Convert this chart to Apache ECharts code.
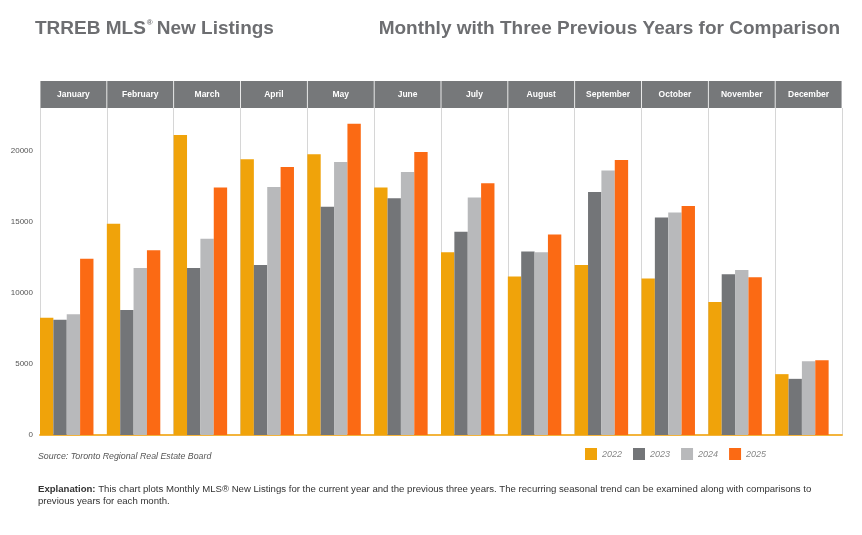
<!DOCTYPE html>
<html>
<head>
<meta charset="utf-8">
<script src="https://cdn.jsdelivr.net/npm/echarts@6/dist/echarts.min.js"></script>
<style>
html,body{margin:0;padding:0;background:#fff;}
#chart{width:862px;height:535px;}
</style>
</head>
<body>
<div id="chart"></div>
<script>
const months = ['January','February','March','April','May','June','July','August','September','October','November','December'];
const years = ['2022','2023','2024','2025'];
const v2022 = [8250,14850,21100,19400,19750,17400,12850,11150,11950,11000,9350,4280];
const v2023 = [8100,8800,11750,11950,16050,16650,14300,12900,17100,15300,11300,3950];
const v2024 = [8500,11750,13800,17450,19200,18500,16700,12850,18600,15650,11600,5180];
const v2025 = [12400,13000,17400,18850,21900,19900,17700,14100,19350,16100,11100,5250];
const spacer = [null,null,null,null,null,null,null,null,null,null,null,null];
const colors = ['#f0a30a','#737578','#b8b9bb','#fb6a14'];

const chart = echarts.init(document.getElementById('chart'));
const seriesData = [v2022, v2023, v2024, v2025];
const series = seriesData.map((d, i) => ({
  name: years[i], type: 'bar', data: d, barGap: '0%', barCategoryGap: '0%',
  itemStyle: {color: colors[i]}, xAxisIndex: 0, yAxisIndex: 0, silent: true
}));
series.push({name: 'spacer', type: 'bar', data: spacer, barGap: '0%', barCategoryGap: '0%', silent: true});

chart.setOption({
  animation: false,
  backgroundColor: '#fff',
  textStyle: {fontFamily: 'Liberation Sans, Arial, sans-serif'},
  title: [
    {text: 'TRREB MLS{sup|®}New Listings', left: 30, top: 14,
     textStyle: {fontSize: 19, fontWeight: 'bold', color: '#6d6e71', fontFamily: 'Liberation Sans',
       rich: {sup: {fontSize: 8, fontWeight: 'bold', color: '#6d6e71', verticalAlign: 'top', padding: [0,4,8,1]}}}},
    {text: 'Monthly with Three Previous Years for Comparison', right: 17, top: 14,
     textStyle: {fontSize: 19, fontWeight: 'bold', color: '#6d6e71', fontFamily: 'Liberation Sans'}},
    {text: 'Source: Toronto Regional Real Estate Board', left: 33, top: 447,
     textStyle: {fontSize: 8.8, fontStyle: 'italic', fontWeight: 'normal', color: '#555'}},
    {text: '{b|Explanation:} This chart plots Monthly MLS® New Listings for the current year and the previous three years. The recurring seasonal trend can be examined along with comparisons to\nprevious years for each month.',
     left: 33, top: 478,
     textStyle: {fontSize: 9.6, fontWeight: 'normal', color: '#333', lineHeight: 12,
       rich: {b: {fontSize: 9.6, fontWeight: 'bold', color: '#333', lineHeight: 12}}}}
  ],
  legend: {
    data: years, left: 580, top: 443, itemWidth: 12, itemHeight: 12, itemGap: 11,
    icon: 'rect', selectedMode: false,
    textStyle: {fontSize: 9, fontStyle: 'italic', color: '#888'}
  },
  grid: {left: 40, right: 20, top: 108, bottom: 100, containLabel: false},
  xAxis: [
    {type: 'category', data: months, boundaryGap: true, position: 'bottom',
     axisLine: {show: true, lineStyle: {color: '#f3b43c', width: 2}},
     axisTick: {show: false}, axisLabel: {show: false},
     splitLine: {show: true, interval: 0, lineStyle: {color: '#d6d6d6', width: 1}}},
    {type: 'category', data: months, boundaryGap: true, position: 'top',
     axisLine: {show: false}, axisTick: {show: false},
     axisLabel: {show: true, interval: 0, margin: 0, width: 66, height: 27, lineHeight: 27,
       backgroundColor: '#76787a', color: '#fff', fontSize: 8.5, fontWeight: 'bold', align: 'center'}}
  ],
  yAxis: {
    type: 'value', min: 0, max: 23000, interval: 5000,
    axisLine: {show: false}, axisTick: {show: false}, splitLine: {show: false},
    axisLabel: {fontSize: 8, color: '#555', margin: 7, showMaxLabel: false,
      formatter: function (v) { return String(v); }}
  },
  series: series
});
</script>
</body>
</html>
